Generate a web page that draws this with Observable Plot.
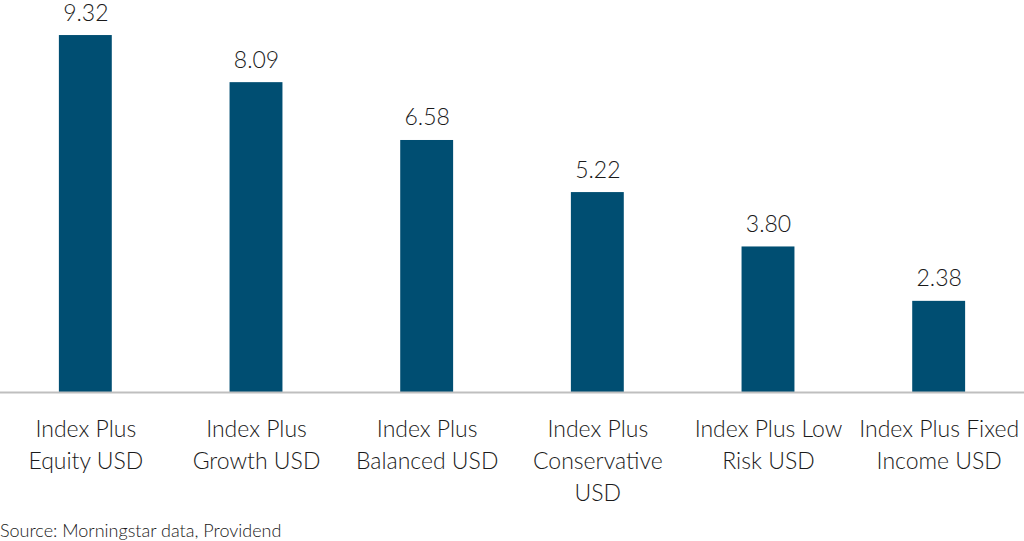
<!DOCTYPE html>
<html>
<head>
<meta charset="utf-8">
<script src="https://cdn.jsdelivr.net/npm/d3@7"></script>
<script src="https://cdn.jsdelivr.net/npm/@observablehq/plot@0.6"></script>
<style>
  html, body { margin: 0; padding: 0; background: #fff; }
  #chart svg { display: block; }
  #caption { font-family: Lato, "Open Sans", sans-serif; font-weight: 300; font-size: 18px; color: #1a1a1a; margin-top: 2px; line-height: 21px; }
</style>
</head>
<body>
<div id="chart"></div>
<div id="caption">Source: Morningstar data, Providend</div>
<script>
const categories = ["Equity", "Growth", "Balanced", "Conservative", "Low Risk", "Fixed Income"];
const values = [9.32, 8.09, 6.58, 5.22, 3.80, 2.38];
const tickLabels = [
  "Index Plus\nEquity USD",
  "Index Plus\nGrowth USD",
  "Index Plus\nBalanced USD",
  "Index Plus\nConservative\nUSD",
  "Index Plus Low\nRisk USD",
  "Index Plus Fixed\nIncome USD"
];

const data = categories.map((c, i) => ({category: c, value: values[i], label: tickLabels[i]}));

const chart = Plot.plot({
  width: 1024,
  height: 518,
  marginTop: 9,
  marginBottom: 126,
  marginLeft: 0,
  marginRight: 0,
  style: {fontFamily: "Lato, 'Open Sans', sans-serif", fontWeight: 300, color: "#1a1a1a", overflow: "visible"},
  x: {domain: categories, paddingInner: 0.69, paddingOuter: 0.345, round: false, axis: null},
  y: {domain: [0, 10], axis: null},
  marks: [
    Plot.barY(data, {x: "category", y: "value", fill: "#004e72"}),
    Plot.ruleY([0], {stroke: "#bfbfbf", strokeWidth: 2}),
    Plot.text(data, {x: "category", y: "value", text: d => d.value.toFixed(2), lineAnchor: "bottom", dy: -15, fontSize: 23, fontWeight: 300, fill: "#1a1a1a"}),
    Plot.text(data, {x: "category", y: () => 0, text: "label", lineAnchor: "top", dy: 22, fontSize: 23, fontWeight: 300, lineHeight: 1.39, fill: "#1a1a1a"})
  ]
});
document.getElementById("chart").append(chart);
</script>
</body>
</html>
